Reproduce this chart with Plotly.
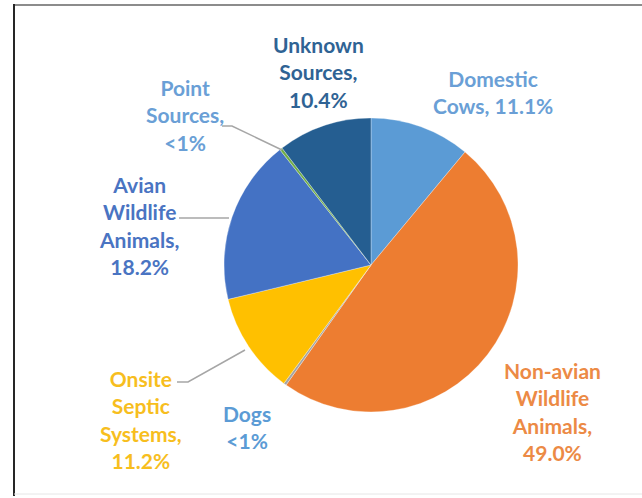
import plotly.graph_objects as go

# ---- data ----
categories = ["Domestic Cows", "Non-avian Wildlife Animals", "Dogs",
              "Onsite Septic Systems", "Avian Wildlife Animals",
              "Point Sources", "Unknown Sources"]
values = [11.1, 49.0, 0.3, 11.2, 18.2, 0.3, 10.4]
pct_text = ["11.1%", "49.0%", "&lt;1%", "11.2%", "18.2%", "&lt;1%", "10.4%"]
label_text = [
    "Domestic<br>Cows, 11.1%",
    "Non-avian<br>Wildlife<br>Animals,<br>49.0%",
    "Dogs<br>&lt;1%",
    "Onsite<br>Septic<br>Systems,<br>11.2%",
    "Avian<br>Wildlife<br>Animals,<br>18.2%",
    "Point<br>Sources,<br>&lt;1%",
    "Unknown<br>Sources,<br>10.4%",
]

# ---- style ----
slice_colors = ["#5B9BD5", "#ED7D31", "#A5A5A5", "#FFC000", "#4472C4", "#70AD47", "#255E91"]
text_colors = ["#6A9FD6", "#EC8A45", "#5B9BD5", "#F7BE1E", "#4A74C2", "#6A9FD6", "#2F6394"]
W, H = 642, 498
# label centres in pixels (x, y of text block centre)
label_pos = [(493, 92), (552, 411), (247, 427), (141, 419), (139, 225), (185, 115), (318, 72)]
FONT = "Lato"

def px(x):
    return x / W

def py(y):
    return 1 - y / H

cx, cy, r = 371, 265, 147

fig = go.Figure(go.Pie(
    labels=categories, values=values, sort=False, direction="clockwise",
    rotation=0, textinfo="none", hoverinfo="label+percent",
    marker=dict(colors=slice_colors, line=dict(width=0.5, color="rgba(255,255,255,0.6)")),
    domain=dict(x=[px(cx - r), px(cx + r)], y=[py(cy + r), py(cy - r)]),
    showlegend=False,
))

annotations = []
for i, t in enumerate(label_text):
    x, y = label_pos[i]
    annotations.append(dict(
        x=px(x), y=py(y), xref="paper", yref="paper", text="<b>" + t + "</b>",
        showarrow=False, xanchor="center", yanchor="middle", align="center",
        font=dict(family=FONT, size=21, color=text_colors[i]),
    ))

lc = "#A6A6A6"
shapes = [
    # leader lines
    dict(type="path", path=f"M {px(222)} {py(126)} L {px(232)} {py(126)} L {px(282)} {py(150)}",
         xref="paper", yref="paper", line=dict(color=lc, width=1.5)),
    dict(type="line", x0=px(179), y0=py(218), x1=px(229), y1=py(218),
         xref="paper", yref="paper", line=dict(color=lc, width=1.5)),
    dict(type="path", path=f"M {px(177)} {py(382)} L {px(188)} {py(382)} L {px(245)} {py(350)}",
         xref="paper", yref="paper", line=dict(color=lc, width=1.5)),
    # frame
    dict(type="line", x0=px(14), y0=py(5), x1=1, y1=py(5),
         xref="paper", yref="paper", line=dict(color="#8C8C8C", width=2)),
    dict(type="line", x0=px(14), y0=py(4), x1=px(14), y1=py(496),
         xref="paper", yref="paper", line=dict(color="#262626", width=2)),
    dict(type="line", x0=px(14), y0=py(494), x1=1, y1=py(494),
         xref="paper", yref="paper", line=dict(color="#E6E6E6", width=1)),
]

fig.update_layout(
    width=W, height=H, margin=dict(l=0, r=0, t=0, b=0),
    paper_bgcolor="white", plot_bgcolor="white",
    annotations=annotations, shapes=shapes,
)

fig.write_html("out.html")
